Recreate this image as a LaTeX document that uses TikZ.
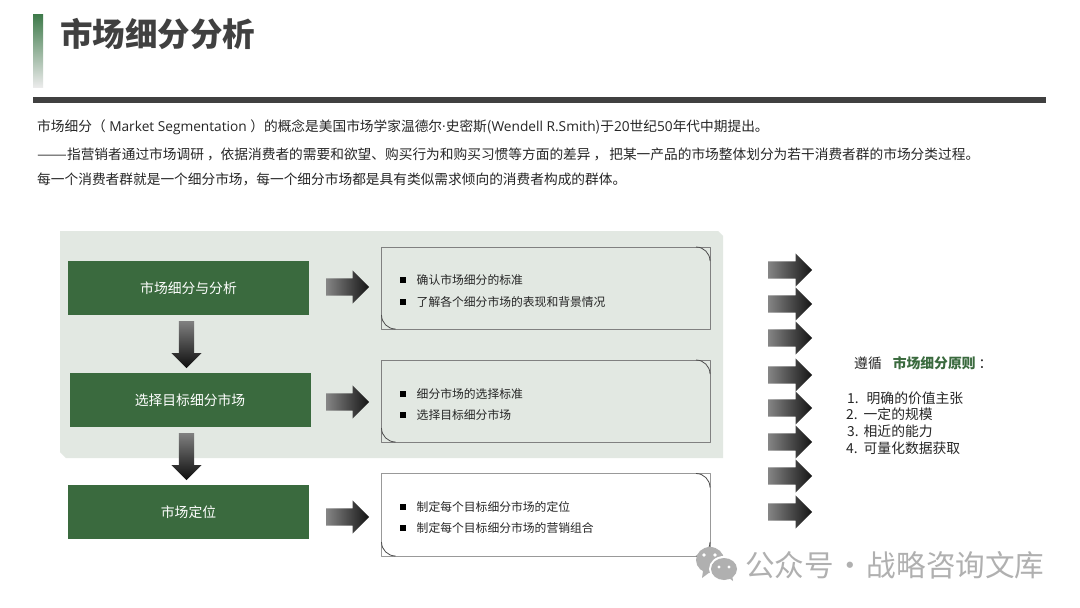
\documentclass[tikz,border=0pt]{standalone}
\usepackage{fontspec}
\setmainfont{Noto Sans CJK SC}
\newfontfamily\latinfont{Open Sans}
\usetikzlibrary{shapes.arrows}
\definecolor{mainGreen}{RGB}{58, 106, 62}
\definecolor{titleGreen}{RGB}{62, 122, 74}
\definecolor{panelGray}{RGB}{226, 232, 226}
\definecolor{barGray}{RGB}{64, 64, 64}
\definecolor{textGray}{RGB}{38, 38, 38}
\definecolor{markGray}{RGB}{176, 176, 176}
\tikzset{
  bodytext/.style={anchor=west, inner sep=0pt, text=textGray, font=\fontsize{13.7}{16}\selectfont},
  stagebox/.style={fill=mainGreen, text=white, minimum width=241pt, minimum height=54pt, inner sep=0pt, font=\fontsize{13.8}{16}\selectfont},
  detailbox/.style={draw=black!50, line width=0.9pt},
  cornerarc/.style={draw=black!70, line width=0.8pt},
  itemmark/.style={fill=black, minimum size=6pt, inner sep=0pt},
  itemtext/.style={anchor=west, inner sep=0pt, text=textGray, font=\fontsize{11.8}{14}\selectfont},
  rightarrow/.style={single arrow, anchor=tail, minimum height=43pt, minimum width=33pt, single arrow head extend=8pt, inner sep=8.5pt, left color=black!48, right color=black!92},
  downarrow/.style={single arrow, shape border rotate=270, anchor=tail, minimum height=47pt, minimum width=30pt, single arrow head extend=7.5pt, inner sep=7.5pt, top color=black!50, bottom color=black!95},
  listtext/.style={anchor=west, inner sep=0pt, text=textGray, font=\fontsize{13.8}{16}\selectfont}
}
\begin{document}
\begin{tikzpicture}[x=1pt, y=-1pt, line join=round]
\useasboundingbox (0,0) rectangle (1080,608);
\fill[white] (0,0) rectangle (1080,608);
% header
\shade[top color=titleGreen, bottom color=black!8] (33,14) rectangle (43,87);
\fill[barGray] (33,97) rectangle (1046,103);
\node[anchor=west, inner sep=0pt, text=barGray, font=\fontsize{32.5}{36}\bfseries\selectfont] (title) at (60,34) {市场细分分析};
\node[bodytext] (introA) at (37,127) {市场细分（{\latinfont\ Market Segmentation\ }）的概念是美国市场学家温德尔{\latinfont ·}史密斯({\latinfont Wendell R.Smith})于{\latinfont 20}世纪{\latinfont 50}年代中期提出。};
\node[bodytext] (introB) at (37,154) {\scalebox{1.3}[1]{——}指营销者通过市场调研\hspace{3pt}，依据消费者的需要和欲望、购买行为和购买习惯等方面的差异\hspace{3pt}，\hspace{2pt}把某一产品的市场整体划分为若干消费者群的市场分类过程。};
\node[bodytext] (introC) at (37,179) {每一个消费者群就是一个细分市场，每一个细分市场都是具有类似需求倾向的消费者构成的群体。};
% panel behind the first two stages
\fill[panelGray] (60,231) -- (718,231) -- (723,236) -- (723,458) -- (66,458) -- (60,452) -- cycle;
% stages
\node[stagebox] (stageA) at (188.5,288) {市场细分与分析};
\node[stagebox] (stageB) at (190,400) {选择目标细分市场};
\node[stagebox] (stageC) at (188.5,512) {市场定位};
\node[downarrow] (downA) at (186.5,321) {};
\node[downarrow] (downB) at (186.5,433) {};
\node[rightarrow] (rightA) at (326,287) {};
\node[rightarrow] (rightB) at (326,402) {};
\node[rightarrow] (rightC) at (326,517) {};
% detail boxes
\draw[detailbox] (381.5,247) rectangle (710,329);
\draw[cornerarc] (696,247) arc[start angle=-90, end angle=0, radius=14];
\draw[cornerarc] (381.5,315) arc[start angle=180, end angle=90, radius=14];
\draw[detailbox] (381.5,360) rectangle (710,442);
\draw[cornerarc] (696,360) arc[start angle=-90, end angle=0, radius=14];
\draw[cornerarc] (381.5,428) arc[start angle=180, end angle=90, radius=14];
\fill[white] (381.5,473.5) rectangle (710,556);
\draw[detailbox, draw=black!40] (381.5,473.5) rectangle (710,556);
\draw[cornerarc] (696,473.5) arc[start angle=-90, end angle=0, radius=14];
\draw[cornerarc] (381.5,542) arc[start angle=180, end angle=90, radius=14];
\draw[cornerarc] (710,542) arc[start angle=0, end angle=90, radius=14];
% items
\node[itemmark] (markA) at (402.5,280) {};
\node[itemtext] (itemA) at (416.5,280) {确认市场细分的标准};
\node[itemmark] (markB) at (402.5,302) {};
\node[itemtext] (itemB) at (416.5,302) {了解各个细分市场的表现和背景情况};
\node[itemmark] (markC) at (402.5,394) {};
\node[itemtext] (itemC) at (416.5,394) {细分市场的选择标准};
\node[itemmark] (markD) at (402.5,415) {};
\node[itemtext] (itemD) at (416.5,415) {选择目标细分市场};
\node[itemmark] (markE) at (402.5,507) {};
\node[itemtext] (itemE) at (416.5,507) {制定每个目标细分市场的定位};
\node[itemmark] (markF) at (402.5,528) {};
\node[itemtext] (itemF) at (416.5,528) {制定每个目标细分市场的营销组合};
% column of arrows
\node[rightarrow, minimum height=44pt] (columnA) at (768,270) {};
\node[rightarrow, minimum height=44pt] (columnB) at (768,304) {};
\node[rightarrow, minimum height=44pt] (columnC) at (768,338) {};
\node[rightarrow, minimum height=44pt] (columnD) at (768,375) {};
\node[rightarrow, minimum height=44pt] (columnE) at (768,408) {};
\node[rightarrow, minimum height=44pt] (columnF) at (768,442) {};
\node[rightarrow, minimum height=44pt] (columnG) at (768,476) {};
\node[rightarrow, minimum height=44pt] (columnH) at (768,512) {};
% principles
\node[listtext] (ruleHead) at (854,363) {遵循\hspace{11pt}\textcolor{mainGreen}{\bfseries 市场细分原则}\hspace{3pt}：};
\node[listtext] (ruleA) at (847,398) {1.\hspace{8pt}明确的价值主张};
\node[listtext] (ruleB) at (846,414) {2.\hspace{6pt}一定的规模};
\node[listtext] (ruleC) at (847,431) {3.\hspace{5pt}相近的能力};
\node[listtext] (ruleD) at (846,448) {4.\hspace{6pt}可量化数据获取};
% watermark
\fill[markGray] (710,560) ellipse[x radius=14, y radius=13];
\fill[markGray] (703,571) -- (702,578) -- (710,572) -- cycle;
\fill[white] (724,569) ellipse[x radius=15, y radius=13];
\fill[markGray] (724,569) ellipse[x radius=13, y radius=11];
\fill[markGray] (729,578) -- (733,581) -- (732,574) -- cycle;
\fill[white] (704,555) circle[radius=1.8];
\fill[white] (715,555) circle[radius=1.8];
\fill[white] (719,567) circle[radius=1.6];
\fill[white] (729,567) circle[radius=1.6];
\node[anchor=west, inner sep=0pt, text=markGray, font=\fontsize{29.6}{32}\selectfont] (markText) at (745,565) {公众号\makebox[33pt]{·}战略咨询文库};
\end{tikzpicture}
\end{document}
